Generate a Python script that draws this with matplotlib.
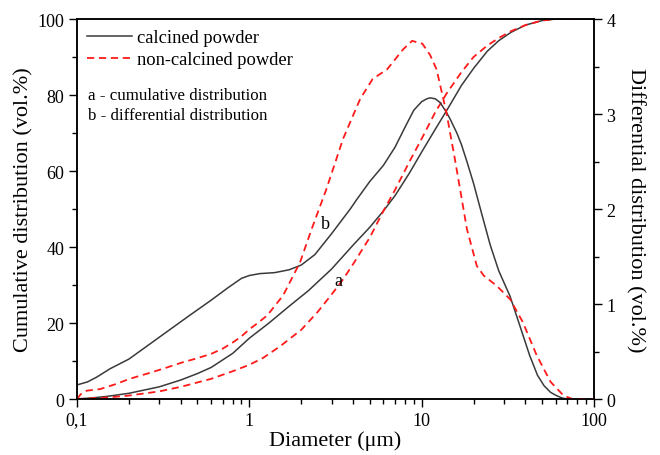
import matplotlib
matplotlib.use("Agg")
import matplotlib.pyplot as plt
from matplotlib.ticker import FixedLocator, LogLocator, NullFormatter, MultipleLocator

plt.rcParams['font.family'] = ['Liberation Serif', 'DejaVu Serif']

# Cumulative distribution (vol.%) - calcined
cum_cal_x = [0.1, 0.12, 0.15, 0.2, 0.3, 0.4, 0.5, 0.6, 0.8, 1.0, 1.3, 1.7, 2.2, 3.0, 4.0, 5.0, 6.0, 7.0, 8.5, 10.0, 12.0, 14.0, 17.0, 20.0, 24.0, 28.0, 33.0, 40.0, 50.0, 60.0, 80.0, 100.0]
cum_cal_y = [0.0, 0.25, 0.7, 1.5, 3.2, 5.0, 6.7, 8.3, 12.0, 16.0, 20.0, 24.4, 28.5, 34.2, 40.5, 45.2, 49.5, 53.5, 59.5, 65.0, 71.0, 76.0, 82.5, 87.0, 91.5, 94.3, 96.5, 98.4, 99.6, 100.0, 100.0, 100.0]

# Cumulative distribution (vol.%) - non-calcined
cum_non_x = [0.1, 0.15, 0.2, 0.3, 0.4, 0.6, 0.8, 1.0, 1.2, 1.5, 2.0, 2.5, 3.0, 3.5, 4.0, 5.0, 6.0, 7.0, 8.5, 10.0, 12.0, 14.0, 17.0, 20.0, 24.0, 28.0, 33.0, 40.0, 50.0, 60.0, 80.0, 100.0]
cum_non_y = [0.0, 0.4, 0.9, 2.0, 3.2, 5.3, 7.3, 9.0, 10.8, 13.8, 18.2, 23.0, 27.5, 31.5, 35.5, 42.5, 49.5, 55.0, 62.5, 68.5, 75.5, 80.5, 86.0, 90.0, 93.0, 95.0, 96.8, 98.4, 99.6, 100.0, 100.0, 100.0]

# Differential distribution (vol.%) - calcined
dif_cal_x = [0.1, 0.115, 0.13, 0.156, 0.2, 0.3, 0.45, 0.6, 0.75, 0.9, 1.0, 1.15, 1.4, 1.7, 2.0, 2.4, 3.0, 3.85, 4.2, 5.0, 6.0, 7.0, 8.0, 9.0, 10.0, 10.7, 11.2, 12.0, 12.8, 13.9, 14.6, 16.0, 17.0, 18.3, 20.0, 22.3, 25.0, 28.0, 32.6, 37.0, 42.3, 47.0, 51.3, 56.0, 60.5, 65.0, 70.0, 80.0, 100.0]
dif_cal_y = [0.148, 0.18, 0.23, 0.32, 0.42, 0.65, 0.88, 1.04, 1.17, 1.27, 1.30, 1.32, 1.33, 1.36, 1.41, 1.52, 1.74, 2.00, 2.10, 2.29, 2.46, 2.65, 2.86, 3.04, 3.13, 3.16, 3.17, 3.16, 3.12, 3.02, 2.95, 2.80, 2.68, 2.50, 2.27, 1.95, 1.62, 1.35, 1.08, 0.78, 0.46, 0.25, 0.14, 0.07, 0.036, 0.012, 0.0, 0.0, 0.0]

# Differential distribution (vol.%) - non-calcined
dif_non_x = [0.1, 0.105, 0.114, 0.136, 0.17, 0.2, 0.27, 0.33, 0.4, 0.5, 0.6, 0.7, 0.81, 0.9, 1.01, 1.12, 1.27, 1.57, 1.97, 2.3, 2.8, 3.5, 4.4, 5.2, 6.3, 7.8, 8.8, 10.1, 11.2, 12.2, 13.9, 15.5, 16.7, 18.3, 20.9, 22.9, 27.3, 32.6, 38.6, 46.5, 56.0, 66.6, 75.0, 85.0, 100.0]
dif_non_y = [0.0, 0.05, 0.088, 0.104, 0.16, 0.21, 0.28, 0.33, 0.38, 0.43, 0.475, 0.53, 0.60, 0.66, 0.74, 0.80, 0.88, 1.09, 1.44, 1.79, 2.21, 2.74, 3.16, 3.37, 3.47, 3.68, 3.77, 3.74, 3.62, 3.47, 3.02, 2.55, 2.21, 1.79, 1.40, 1.30, 1.19, 1.05, 0.81, 0.46, 0.18, 0.036, 0.0, 0.0, 0.0]

x_ticks = [0.1, 1, 10, 100]
x_ticklabels = ["0,1", "1", "10", "100"]
left_ticks = [0, 20, 40, 60, 80, 100]
right_ticks = [0, 1, 2, 3, 4]

SOLID = "#3a3a3a"
RED = "#ff1a1a"

fig = plt.figure(figsize=(6.6, 4.56), dpi=100)
ax = fig.add_axes([0.1167, 0.1228, 0.7833, 0.8333])
ax2 = ax.twinx()

ax.plot(cum_cal_x, cum_cal_y, color=SOLID, lw=1.1, label="calcined powder")
ax.plot(cum_non_x, cum_non_y, color=RED, lw=1.3, ls=(0, (4, 2.6)), label="non-calcined powder")
ax2.plot(dif_cal_x, dif_cal_y, color=SOLID, lw=1.1)
ax2.plot(dif_non_x, dif_non_y, color=RED, lw=1.3, ls=(0, (4, 2.6)))

ax.set_xscale("log")
ax.set_xlim(0.1, 100)
ax.set_ylim(0, 100)
ax2.set_ylim(0, 4)

ax.xaxis.set_major_locator(FixedLocator(x_ticks))
ax.set_xticklabels(x_ticklabels)
ax.xaxis.set_minor_locator(LogLocator(base=10, subs=range(2, 10)))
ax.xaxis.set_minor_formatter(NullFormatter())
ax.set_yticks(left_ticks)
ax.yaxis.set_minor_locator(MultipleLocator(10))
ax2.set_yticks(right_ticks)
ax2.yaxis.set_minor_locator(MultipleLocator(0.5))

for a in (ax, ax2):
    a.tick_params(which="major", direction="out", length=6, width=1.0, labelsize=13, pad=3)
    a.tick_params(which="minor", direction="out", length=3.5, width=1.0)
    for s in a.spines.values():
        s.set_linewidth(1.1)
ax.tick_params(axis="x", which="both", top=False)

ax.set_xlabel("Diameter (\u03bcm)", fontsize=16, labelpad=1)
ax.set_ylabel("Cumulative distribution (vol.%)", fontsize=16, labelpad=3)
ax2.set_ylabel("Differential distribution (vol.%)", fontsize=16, rotation=-90, labelpad=21)

leg = ax.legend(loc="upper left", bbox_to_anchor=(0.0, 1.0), frameon=False, fontsize=13.3,
                handlelength=2.4, handletextpad=0.3, borderaxespad=0.15, labelspacing=0.28)

ax.text(0.0213, 0.80, "a - cumulative distribution", transform=ax.transAxes, fontsize=12.2, va="center")
ax.text(0.0213, 0.747, "b - differential distribution", transform=ax.transAxes, fontsize=12.2, va="center")

ax.text(3.28, 31.3, "a", fontsize=13, ha="center", va="center")
ax.text(2.75, 46.3, "b", fontsize=13, ha="center", va="center")

fig.savefig("out.png", dpi=100)
